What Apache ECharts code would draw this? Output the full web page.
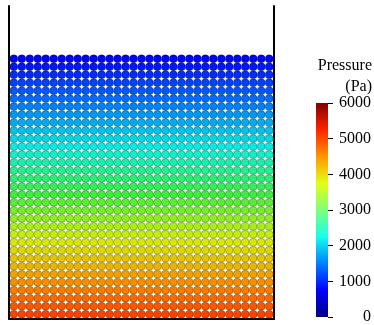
<!DOCTYPE html>
<html>
<head>
<meta charset="utf-8">
<script src="https://cdn.jsdelivr.net/npm/echarts@6/dist/echarts.min.js"></script>
<style>
  html, body { margin: 0; padding: 0; background: #fff; }
  #chart { width: 374px; height: 325px; }
</style>
</head>
<body>
<div id="chart"></div>
<script>
// particle columns (33 across the tank)
const columnCount = 33;
// pressure of each particle row, top row first (Pa)
const rowPressure = [760, 890, 1025, 1155, 1290, 1420, 1550, 1685, 1815, 1950, 2080,
  2210, 2345, 2475, 2610, 2740, 2870, 3005, 3135, 3270, 3400, 3530,
  3665, 3795, 3930, 4060, 4190, 4325, 4455, 4590, 4720, 4850, 4985];
// colour bar ticks
const barTicks = [0, 1000, 2000, 3000, 4000, 5000, 6000];
const jet = ['#00007f', '#0000ff', '#0080ff', '#14ffeb', '#80ff7a',
  '#e2ff14', '#ff9700', '#ff2200', '#800000'];
// particles look a little more saturated (shaded spheres)
const jetShaded = ['#00007a', '#0000f5', '#0078f5', '#10ecdc', '#40ec40',
  '#d4ec10', '#f58a00', '#f52000', '#7a0000'];

var chartDom = document.getElementById('chart');
var myChart = echarts.init(chartDom);

let points = [];
rowPressure.forEach((p, i) => {
  let row = rowPressure.length - 1 - i;
  for (let c = 0; c < columnCount; c++) {
    points.push([c, row, p]);
  }
});

const serif = '"Liberation Serif", "Times New Roman", serif';
const wall = { show: true, onZero: false, lineStyle: { color: '#000', width: 2 } };

let option = {
  animation: false,
  grid: [
    { left: 9, right: 100, top: 6, bottom: 6 },
    { left: 316, width: 13, top: 103, height: 215 }
  ],
  xAxis: [
    {
      gridIndex: 0, type: 'value', min: -0.6, max: 32.6,
      axisLine: wall, axisTick: { show: false }, axisLabel: { show: false }, splitLine: { show: false }
    },
    { gridIndex: 1, type: 'category', data: [''], show: false }
  ],
  yAxis: [
    {
      gridIndex: 0, type: 'value', min: -0.6, max: 38.6, position: 'left',
      axisLine: wall, axisTick: { show: false }, axisLabel: { show: false }, splitLine: { show: false }
    },
    {
      gridIndex: 0, type: 'value', min: -0.6, max: 38.6, position: 'right',
      axisLine: wall, axisTick: { show: false }, axisLabel: { show: false }, splitLine: { show: false }
    },
    {
      gridIndex: 1, type: 'value', position: 'right',
      min: barTicks[0], max: barTicks[barTicks.length - 1], interval: 1000,
      axisLine: { show: false },
      axisTick: { show: true, length: 5, lineStyle: { color: '#000', width: 1 } },
      axisLabel: {
        align: 'right', margin: 43, color: '#000', fontSize: 16, fontFamily: serif,
        formatter: (v) => String(v)
      },
      splitLine: { show: false }
    }
  ],
  visualMap: {
    show: false, type: 'continuous', seriesIndex: 0, dimension: 2,
    min: 0, max: 6000, inRange: { color: jetShaded }
  },
  graphic: [
    {
      type: 'text', x: 372, y: 55,
      style: {
        text: 'Pressure\n(Pa)', align: 'right', textAlign: 'right',
        fontSize: 16, fontFamily: serif, lineHeight: 21, fill: '#000'
      }
    }
  ],
  series: [
    {
      type: 'scatter', xAxisIndex: 0, yAxisIndex: 0,
      symbolSize: 8,
      itemStyle: { opacity: 1, borderColor: 'rgba(0,0,0,0.4)', borderWidth: 0.6 },
      data: points
    },
    {
      type: 'bar', xAxisIndex: 1, yAxisIndex: 2, barWidth: '100%',
      data: [barTicks[barTicks.length - 1]],
      itemStyle: {
        color: new echarts.graphic.LinearGradient(0, 1, 0, 0,
          jet.map((c, i) => ({ offset: i / (jet.length - 1), color: c })))
      }
    }
  ]
};
option && myChart.setOption(option);
</script>
</body>
</html>
